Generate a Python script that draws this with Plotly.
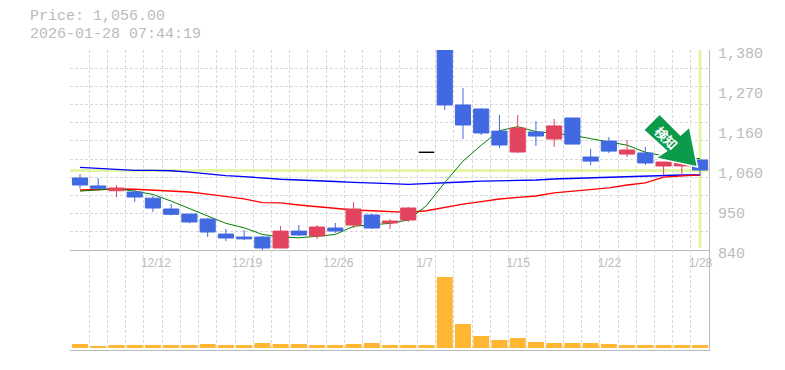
import plotly.graph_objects as go

index = list(range(35))
top_body = [1034.4,1013,1007.4,996.6,980,950.7,937,923.7,883,875,875,891,891,902,899.4,950.7,934.5,918.3,953.4,1103.7,
            1395,1231.5,1220.7,1161,1169.4,1158.6,1175,1196.4,1091,1134,1110,1102,1077.6,1074,1083]
bottom_body = [1015.5,1006.5,1000,983,953.4,936.3,915.6,888.6,872.4,870,845.4,845.4,880.5,877.8,891.3,907.5,899.4,913,921,1103.7,
               1231.5,1177.5,1156,1123.5,1104.6,1147.8,1139.7,1126,1080,1107,1099,1075,1066.8,1067,1056]
highs = [1045,1034,1015.5,1002,986,964,937,926.4,896.7,894,877.8,904.8,907.5,907.5,913,969.6,937,923.7,956,1103.7,
         1400,1277,1223,1204.5,1204.5,1188,1193.7,1196.4,1112.7,1145,1137,1118,1077.6,1074,1083]
lows = [1006.5,1004,983,969.6,942.6,933.6,912,875,864,867,837,845,877.8,869.7,886,899.4,896.7,896.7,915.6,1103.7,
        1218,1139.7,1150.5,1115.4,1102,1120.8,1118,1126,1069.5,1102,1091,1069.5,1042.5,1042.5,1040]
is_up = [0,0,1,0,0,0,0,0,0,0,0,1,0,1,0,1,0,1,1,0,0,0,0,0,1,0,1,0,0,0,1,0,1,1,0]
doji = 19

ma_blue = [1063,1060.5,1058,1055,1055,1054,1050,1045,1041,1038,1033.5,1031,1029,1026,1025,1022.7,1020,1019,1017.3,1020,
           1022.7,1023.6,1026,1026.5,1028,1029,1031.7,1033.5,1034.4,1036,1039,1040.7,1042.5,1042.5,1042.5]
ma_red = [1002,1004,1004.7,1004,1001,999,996.6,991,985,978,968,967,961.5,957,952.5,948,946,943.5,941.7,946,
          955,964,970.5,977.7,982,985.8,994,999,1003,1008,1015.5,1021,1037,1040,1043]
ma_green = [999,1002,1005.6,999,990,972,952.5,932.7,912,900,882,875,873,877,882,904,907.5,912,921,960,
            1022,1080,1123,1162,1173,1159.5,1155,1150,1140.6,1132,1123,1104,1094,1087,1087]
volume = [40,20,30,30,30,30,30,40,30,30,50,40,40,30,30,40,50,30,30,30,710,240,120,80,100,60,50,50,50,40,30,30,30,30,30]

date_pos = [4,9,14,19,24,29,34]
date_labels = ["12/12","12/19","12/26","1/7","1/15","1/22","1/28"]
price_ticks = [840,948,1056,1164,1272,1380]
price_labels = ["840","950","1,060","1,160","1,270","1,380"]
current_price = 1056.0

GREY = "#BBBBBB"
GRID = "#D8D8D8"
YELLOW = "#E4F5A8"
BLUE = "#4169E1"
RED = "#E2445F"
OFF = 8
L, R, T, B = 70.0, 709.5, 50.0, 350.0
XR = [-0.548, 34.49]
YR = [840, 1380]

def px(x, y):
    return f"{(x-L)/(R-L):.4f},{(B-y)/(B-T):.4f}"

fig = go.Figure()

for vals, col, w in [(ma_blue, "#0000FF", 1.3), (ma_red, "#FF0000", 1.3), (ma_green, "#008000", 1)]:
    fig.add_trace(go.Scatter(x=index, y=vals, mode="lines", line=dict(color=col, width=w), xaxis="x", yaxis="y"))

keep = [i for i in index if i != doji]
o = [bottom_body[i] if is_up[i] else top_body[i] for i in keep]
c = [top_body[i] if is_up[i] else bottom_body[i] for i in keep]
fig.add_trace(go.Candlestick(
    x=keep, open=o, close=c, high=[highs[i] for i in keep], low=[lows[i] for i in keep],
    increasing=dict(line=dict(color=RED, width=1), fillcolor=RED),
    decreasing=dict(line=dict(color=BLUE, width=1), fillcolor=BLUE),
    whiskerwidth=0, xaxis="x", yaxis="y3"))
fig.add_trace(go.Candlestick(
    x=[doji], open=[top_body[doji]], close=[bottom_body[doji]], high=[highs[doji]], low=[lows[doji]],
    increasing=dict(line=dict(color="#000000", width=1), fillcolor="#000000"),
    decreasing=dict(line=dict(color="#000000", width=1), fillcolor="#000000"),
    whiskerwidth=0, xaxis="x", yaxis="y3"))
fig.add_trace(go.Bar(x=index, y=volume, width=0.88, marker=dict(color="#FFB733", line=dict(width=0)), xaxis="x2", yaxis="y2"))

minor_x = dict(tick0=-0.5, dtick=1, showgrid=True, gridcolor=GRID, griddash="3px,2px", gridwidth=1, ticklen=0)
tickfont_x = dict(family="Liberation Sans", size=12, color=GREY)
axis_font = dict(family="Liberation Mono", size=15, color=GREY)

arrow = "M " + " L ".join(px(*p).replace(",", " ") for p in [
    (660,114),(681,135),(690,127),(698,167),(656,158),(667,151),(644,130)]) + " Z"

# the reference's date labels sit a little right of their candle, more so for longer labels
label_pos = [p + ((len(t) - 4) * 2.5 + 0.5) / 18.25 for p, t in zip(date_pos, date_labels)]

fig.update_layout(
    width=785-OFF, height=370-OFF, autosize=False,
    margin=dict(l=L-OFF, r=785-R, t=T-OFF, b=370-B, pad=0, autoexpand=False),
    paper_bgcolor="white", plot_bgcolor="white", showlegend=False, boxgap=0.17, boxgroupgap=0,
    xaxis=dict(domain=[0,1], range=XR, anchor="y", tickmode="array", tickvals=label_pos, ticktext=date_labels,
               tickfont=tickfont_x, ticklen=0, showgrid=False, zeroline=False, minor=minor_x, automargin=False,
               showline=True, linecolor=GREY, linewidth=1, rangeslider=dict(visible=False), ticklabelstandoff=2),
    xaxis2=dict(domain=[0,1], range=XR, anchor="y2", showticklabels=False, ticklen=0, showgrid=False, zeroline=False,
                minor=minor_x, showline=True, linecolor=GREY, linewidth=1, automargin=False),
    yaxis=dict(domain=[1/3,1], range=YR, anchor="x", side="right", tickmode="array", tickvals=price_ticks, ticktext=price_labels,
               tickfont=axis_font, ticklen=0, showgrid=False, zeroline=False, showline=True, linecolor=GREY, linewidth=1,
               minor=dict(tick0=840, dtick=540/11, showgrid=True, gridcolor=GRID, griddash="3px,2px", gridwidth=1, ticklen=0),
               ticklabelstandoff=5, ticklabelshift=3, automargin=False),
    yaxis3=dict(domain=[1/3,1], range=YR, anchor="x", overlaying="y", side="right", showticklabels=False, ticklen=0,
                showgrid=False, zeroline=False, automargin=False),
    yaxis2=dict(domain=[0,1/3], range=[-20,980], anchor="x2", side="right", showticklabels=False, ticklen=0,
                showgrid=False, zeroline=False, showline=True, linecolor=GREY, linewidth=1, automargin=False),
    shapes=[
        dict(type="line", xref="paper", x0=0, x1=1, yref="y", y0=current_price-1.35, y1=current_price-1.35,
             line=dict(color=YELLOW, width=3), layer="below"),
        dict(type="line", xref="x", x0=34, x1=34, yref="paper", y0=0.34, y1=1,
             line=dict(color=YELLOW, width=3), layer="below"),
        dict(type="path", xref="paper", yref="paper", path=arrow, fillcolor="#0B9B4A",
             line=dict(color="white", width=1.5), layer="above"),
    ],
    annotations=[
        dict(text="Price: 1,056.00", xref="paper", yref="paper", x=(29-L)/(R-L), y=(B-17)/(B-T), xanchor="left", yanchor="middle",
             showarrow=False, font=axis_font, borderpad=0),
        dict(text="2026-01-28 07:44:19", xref="paper", yref="paper", x=(29-L)/(R-L), y=(B-34)/(B-T), xanchor="left", yanchor="middle",
             showarrow=False, font=axis_font, borderpad=0),
        dict(text="<b>検知</b>", xref="paper", yref="paper", x=(667-L)/(R-L), y=(B-137)/(B-T), xanchor="center", yanchor="middle",
             showarrow=False, textangle=45, font=dict(family="Noto Sans CJK JP", size=13, color="white")),
    ],
)
fig.write_html("out.html")
